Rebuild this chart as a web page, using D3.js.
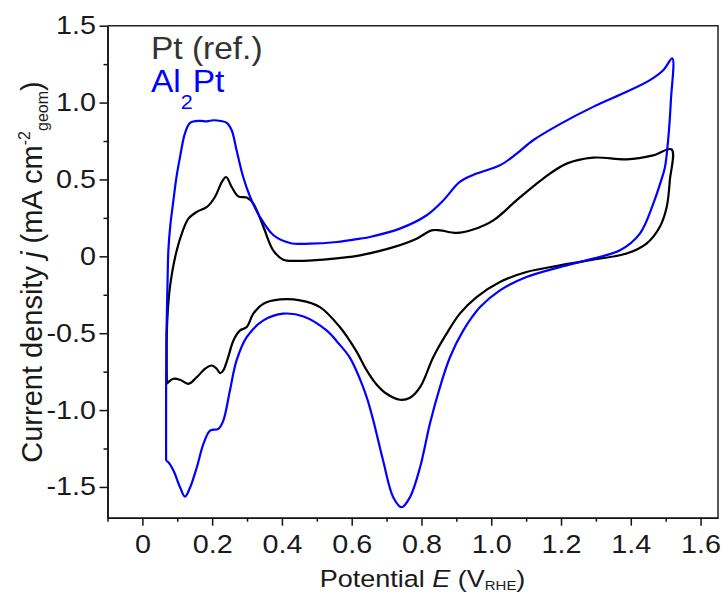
<!DOCTYPE html>
<html>
<head>
<meta charset="utf-8">
<script src="https://cdn.jsdelivr.net/npm/d3@7"></script>
<style>
	body { margin: 0; background: #fff; }
	svg { font-family: 'Liberation Sans', Arial, sans-serif; }
</style>
</head>
<body>
<div id="chart"></div>
<script>
// potential (V vs RHE) and current density (mA cm-2), one closed loop each
const ptE = [0.07,0.07,0.073,0.079,0.094,0.113,0.132,0.156,0.185,0.208,0.228,0.24,0.256,0.275,0.299,0.318,0.347,0.375,0.404,0.442,0.519,0.595,0.624,0.72,0.786,0.829,0.853,0.901,0.948,1.006,1.073,1.149,1.216,1.292,1.388,1.464,1.517,
	1.512,1.503,1.483,1.445,1.388,1.292,1.197,1.101,1.025,0.958,0.91,0.872,0.834,0.796,0.767,0.738,0.70,0.67,0.64,0.614,0.566,0.509,0.452,0.395,0.347,0.318,0.299,0.28,0.261,0.246,0.232,0.223,0.213,0.199,0.18,0.156,0.132,0.108,0.089,0.0745,0.07]
const ptJ = [-0.829,-0.503,-0.35,-0.2,-0.004,0.148,0.245,0.289,0.321,0.386,0.484,0.516,0.451,0.39,0.382,0.343,0.191,0.039,-0.022,-0.03,-0.022,-0.004,0.0065,0.06,0.115,0.169,0.169,0.152,0.174,0.234,0.365,0.506,0.603,0.642,0.631,0.657,0.695,
	0.495,0.321,0.191,0.083,0.018,-0.022,-0.059,-0.102,-0.167,-0.265,-0.373,-0.503,-0.655,-0.851,-0.92,-0.933,-0.894,-0.83,-0.73,-0.62,-0.46,-0.33,-0.286,-0.28,-0.308,-0.373,-0.46,-0.482,-0.547,-0.655,-0.742,-0.76,-0.731,-0.71,-0.731,-0.786,-0.829,-0.803,-0.796,-0.818,-0.829]

const alE = [0.068,0.068,0.069,0.072,0.0745,0.08,0.089,0.098,0.108,0.122,0.137,0.165,0.185,0.203,0.225,0.242,0.256,0.27,0.289,0.309,0.337,0.376,0.423,0.48,0.557,0.624,0.652,0.738,0.815,0.863,0.91,0.958,1.025,1.073,1.12,1.197,1.292,1.388,1.455,1.493,1.519,
	1.515,1.507,1.498,1.488,1.464,1.426,1.369,1.292,1.197,1.101,1.025,0.968,0.92,0.882,0.853,0.824,0.796,0.767,0.743,0.719,0.69,0.662,0.645,0.624,0.595,0.56,0.528,0.462,0.404,0.347,0.299,0.27,0.251,0.232,0.218,0.194,0.175,0.156,0.137,0.122,0.108,0.089,0.0745,0.068]
const alJ = [-1.33,-0.9,-0.5,-0.18,0.04,0.2,0.365,0.52,0.647,0.8,0.868,0.881,0.878,0.885,0.88,0.868,0.82,0.69,0.516,0.386,0.256,0.137,0.087,0.082,0.093,0.115,0.126,0.18,0.267,0.365,0.484,0.538,0.592,0.668,0.755,0.86,0.972,1.07,1.146,1.21,1.287,
	1.016,0.755,0.58,0.5,0.34,0.148,0.039,-0.015,-0.07,-0.135,-0.221,-0.33,-0.482,-0.655,-0.851,-1.09,-1.372,-1.567,-1.632,-1.567,-1.328,-1.068,-0.93,-0.80,-0.66,-0.56,-0.482,-0.391,-0.373,-0.417,-0.525,-0.677,-0.872,-1.068,-1.122,-1.133,-1.22,-1.372,-1.502,-1.563,-1.502,-1.393,-1.339,-1.33]

const xTicks = [0, 0.2, 0.4, 0.6, 0.8, 1.0, 1.2, 1.4, 1.6]
const xMinor = [-0.1, 0.1, 0.3, 0.5, 0.7, 0.9, 1.1, 1.3, 1.5]
const yTicks = [-1.5, -1.0, -0.5, 0, 0.5, 1.0, 1.5]
const yMinor = [-1.25, -0.75, -0.25, 0.25, 0.75, 1.25]

const width = 725, height = 596
const margin = {top: 25.7, right: 7, bottom: 78.3, left: 107.5}
const stretch = 1.15 // the picture's text is a little wider than plain Arial

const svg = d3.select('#chart').append('svg')
	.attr('width', width)
	.attr('height', height)

const x = d3.scaleLinear().domain([-0.1, 1.65]).range([margin.left, width - margin.right])
const y = d3.scaleLinear().domain([-1.7, 1.5]).range([height - margin.bottom, margin.top])
const fmt = d => d === 0 ? '0' : d.toFixed(1)

// frame top and right
svg.append('path')
	.attr('d', `M${x(-0.1)},${y(1.5)}H${x(1.65)}V${y(-1.7)}`)
	.attr('fill', 'none')
	.attr('stroke', '#222')
	.attr('stroke-width', 1.5)

// bottom axis
svg.append('g')
	.attr('transform', `translate(0,${y(-1.7)})`)
	.call(d3.axisBottom(x).tickValues(xMinor).tickSize(4).tickSizeOuter(0).tickFormat(''))
svg.append('g')
	.attr('transform', `translate(0,${y(-1.7)})`)
	.call(d3.axisBottom(x).tickValues(xTicks).tickSize(8).tickSizeOuter(0).tickPadding(10).tickFormat(fmt))

// left axis
svg.append('g')
	.attr('transform', `translate(${x(-0.1)},0)`)
	.call(d3.axisLeft(y).tickValues(yMinor).tickSize(4).tickSizeOuter(0).tickFormat(''))
svg.append('g')
	.attr('transform', `translate(${x(-0.1)},0)`)
	.call(d3.axisLeft(y).tickValues(yTicks).tickSize(8).tickSizeOuter(0).tickPadding(2).tickFormat(fmt))

svg.selectAll('.domain, .tick line')
	.attr('stroke', '#111')
	.attr('stroke-width', 1.5)
svg.selectAll('.tick text')
	.attr('font-size', 25)
	.attr('font-family', "'Liberation Sans', Arial, sans-serif")
	.attr('fill', '#1a1a1a')
	.attr('transform', `scale(${stretch},1)`)

// curves
const line = d3.line()
	.x(d => x(d[0]))
	.y(d => y(d[1]))
	.curve(d3.curveCatmullRom.alpha(0.5))

const series = [
	{name: 'Pt (ref.)', e: ptE, j: ptJ, colour: '#000000'},
	{name: 'Al2Pt', e: alE, j: alJ, colour: '#0000ff'}
]

svg.selectAll('path.cv')
	.data(series)
	.enter()
		.append('path')
			.attr('class', 'cv')
			.attr('fill', 'none')
			.attr('stroke', d => d.colour)
			.attr('stroke-width', 2.2)
			.attr('stroke-linejoin', 'round')
			.attr('d', d => line(d.e.map((v, i) => [v, d.j[i]])))

// legend
const legend = svg.append('g')
	.attr('font-size', 31)
legend.append('text')
	.attr('transform', `translate(151,59) scale(1.08,1)`)
	.attr('fill', '#333')
	.text('Pt (ref.)')
const al = legend.append('text')
	.attr('transform', `translate(151,92) scale(1.08,1)`)
	.attr('fill', '#0000ff')
al.append('tspan').text('Al')
al.append('tspan').attr('font-size', 20).attr('dy', 17).text('2')
al.append('tspan').attr('dy', -17).text('Pt')

// axis titles
const xt = svg.append('text')
	.attr('transform', `translate(${(315 + 530) / 2},586.5) scale(${stretch},1)`)
	.attr('text-anchor', 'middle')
	.attr('font-size', 23.5)
	.attr('fill', '#1a1a1a')
xt.append('tspan').text('Potential ')
xt.append('tspan').attr('font-style', 'italic').text('E')
xt.append('tspan').text(' (V')
xt.append('tspan').attr('font-size', 13).attr('dy', 3).text('RHE')
xt.append('tspan').attr('dy', -3).text(')')

const yt = svg.append('text')
	.attr('transform', `translate(42,272) rotate(-90)`)
	.attr('text-anchor', 'middle')
	.attr('font-size', 29)
	.attr('fill', '#1a1a1a')
yt.append('tspan').text('Current density ')
yt.append('tspan').attr('font-style', 'italic').text('j')
yt.append('tspan').text(' (mA cm')
yt.append('tspan').attr('font-size', 16).attr('dy', -12).text('-2')
yt.append('tspan').attr('font-size', 16).attr('dy', 18).text('geom')
yt.append('tspan').attr('dy', -6).text(')')
</script>
</body>
</html>
